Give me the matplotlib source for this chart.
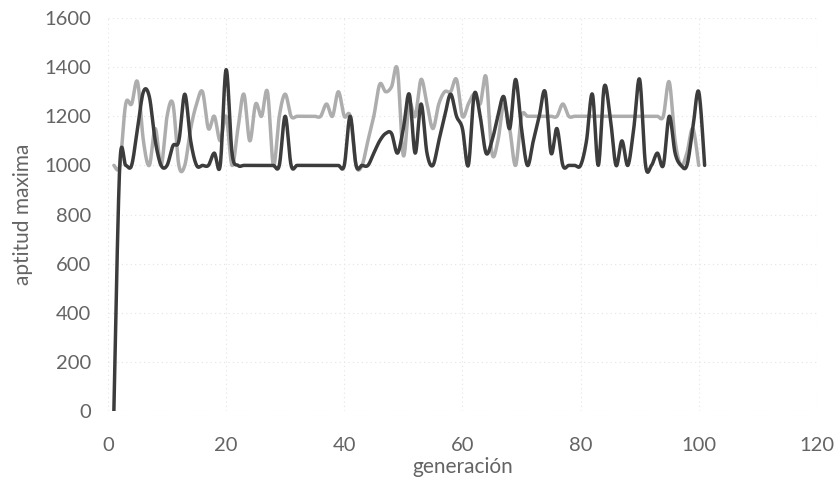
import numpy as np
import matplotlib
matplotlib.use("Agg")
import matplotlib.pyplot as plt

plt.rcParams['font.family'] = ['Lato', 'DejaVu Sans']

# best fitness per generation, run A (dark) and run B (light)
gen_a = list(range(1, 102))
fit_a = [
    0, 1000, 1000, 1000, 1150, 1300, 1280, 1100, 1000, 1000,      # 1-10
    1080, 1100, 1290, 1100, 1000, 1000, 1000, 1050, 1000, 1390,   # 11-20
    1050, 1000, 1000, 1000, 1000, 1000, 1000, 1000, 1000, 1200,   # 21-30
    1000, 1000, 1000, 1000, 1000, 1000, 1000, 1000, 1000, 1000,   # 31-40
    1200, 1000, 1000, 1000, 1050, 1100, 1130, 1130, 1050, 1150,   # 41-50
    1290, 1050, 1250, 1050, 1000, 1100, 1200, 1290, 1200, 1150,   # 51-60
    1000, 1290, 1200, 1050, 1100, 1200, 1280, 1150, 1350, 1150,   # 61-70
    1000, 1100, 1200, 1300, 1050, 1150, 1000, 1000, 1000, 1000,   # 71-80
    1100, 1290, 1000, 1320, 1200, 1000, 1100, 1000, 1150, 1350,   # 81-90
    1000, 1000, 1050, 1000, 1200, 1050, 1000, 1000, 1150, 1300,   # 91-100
    1000,                                                          # 101
]

gen_b = list(range(1, 101))
fit_b = [
    1000, 1000, 1250, 1250, 1340, 1100, 1000, 1150, 1000, 1200,   # 1-10
    1250, 1000, 1000, 1150, 1250, 1300, 1150, 1200, 1100, 1200,   # 11-20
    1000, 1150, 1290, 1100, 1250, 1200, 1300, 1000, 1200, 1290,   # 21-30
    1200, 1200, 1200, 1200, 1200, 1200, 1250, 1200, 1300, 1200,   # 31-40
    1200, 1000, 1000, 1100, 1200, 1330, 1300, 1320, 1390, 1040,   # 41-50
    1250, 1200, 1350, 1250, 1150, 1250, 1300, 1300, 1350, 1200,   # 51-60
    1250, 1290, 1250, 1360, 1050, 1100, 1250, 1150, 1000, 1200,   # 61-70
    1200, 1200, 1200, 1200, 1200, 1200, 1250, 1200, 1200, 1200,   # 71-80
    1200, 1200, 1200, 1200, 1200, 1200, 1200, 1200, 1200, 1200,   # 81-90
    1200, 1200, 1200, 1200, 1340, 1100, 1000, 1050, 1150, 1000,   # 91-100
]

x_ticks = [0, 20, 40, 60, 80, 100, 120]
y_ticks = [0, 200, 400, 600, 800, 1000, 1200, 1400, 1600]


def smooth(xs, ys, steps=16):
    """Smoothed polyline through the points (cubic Bezier, Catmull-Rom tangents)."""
    xs = np.asarray(xs, float)
    ys = np.asarray(ys, float)
    n = len(xs)
    px = np.concatenate([[xs[0]], xs, [xs[-1]]])
    py = np.concatenate([[ys[0]], ys, [ys[-1]]])
    out_x, out_y = [], []
    t = np.linspace(0, 1, steps, endpoint=False)
    for i in range(n - 1):
        p0 = np.array([px[i], py[i]])
        p1 = np.array([px[i + 1], py[i + 1]])
        p2 = np.array([px[i + 2], py[i + 2]])
        p3 = np.array([px[i + 3], py[i + 3]])
        c1 = p1 + (p2 - p0) / 6.0
        c2 = p2 - (p3 - p1) / 6.0
        b = ((1 - t) ** 3)[:, None] * p1 + (3 * (1 - t) ** 2 * t)[:, None] * c1 \
            + (3 * (1 - t) * t ** 2)[:, None] * c2 + (t ** 3)[:, None] * p2
        out_x.extend(b[:, 0])
        out_y.extend(b[:, 1])
    out_x.append(xs[-1])
    out_y.append(ys[-1])
    return np.array(out_x), np.array(out_y)


fig = plt.figure(figsize=(8.35, 4.9), dpi=100)
ax = fig.add_axes([0.1293, 0.1612, 0.849, 0.802])

sx, sy = smooth(gen_b, fit_b)
ax.plot(sx, sy, color='#adadad', lw=2.5, solid_capstyle='round', zorder=3)
sx, sy = smooth(gen_a, fit_a)
ax.plot(sx, sy, color='#3c3c3c', lw=2.5, solid_capstyle='round', zorder=4)

ax.set_xlim(0, 120)
ax.set_ylim(0, 1600)
ax.set_xticks(x_ticks)
ax.set_yticks(y_ticks)
ax.grid(True, color='#e4e4e4', linestyle=(0, (1, 3)), linewidth=0.8, zorder=0)
for s in ax.spines.values():
    s.set_visible(False)
ax.tick_params(axis='both', length=0, labelsize=14.5, labelcolor='#646464')
ax.tick_params(axis='y', pad=12)
ax.tick_params(axis='x', pad=19)

ax.set_xlabel('generación', fontsize=15, color='#646464', labelpad=2)
ax.set_ylabel('aptitud maxima', fontsize=15, color='#646464', labelpad=8)

fig.savefig('out.png', dpi=100, facecolor='white')
